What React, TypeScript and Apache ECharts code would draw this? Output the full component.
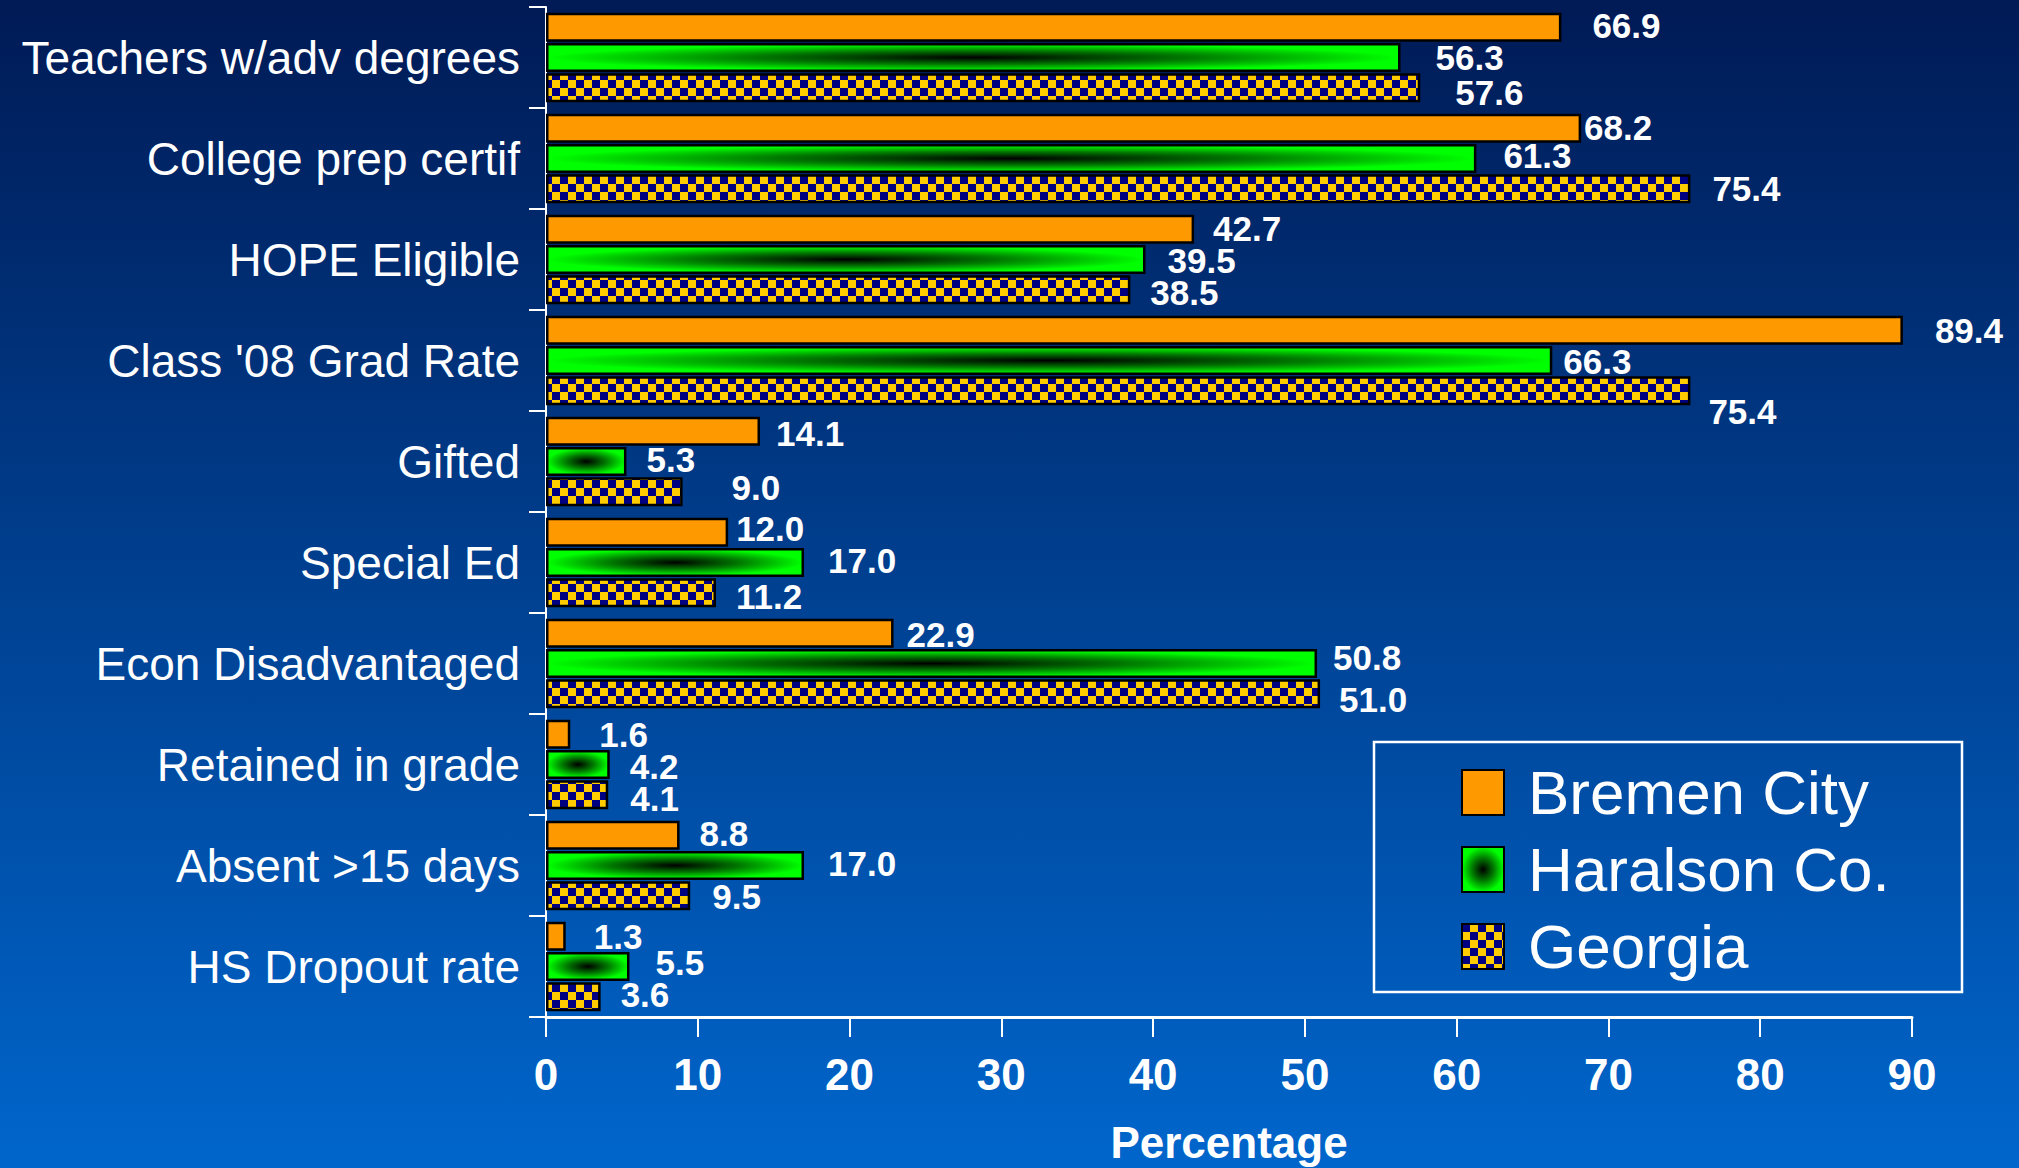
import React, { useEffect, useRef } from "react";
import * as echarts from "echarts";

const categories = [
  "Teachers w/adv degrees",
  "College prep certif",
  "HOPE Eligible",
  "Class '08 Grad Rate",
  "Gifted",
  "Special Ed",
  "Econ Disadvantaged",
  "Retained in grade",
  "Absent >15 days",
  "HS Dropout rate",
];
const seriesNames = ["Bremen City", "Haralson Co.", "Georgia"];
const bremen = [66.9, 68.2, 42.7, 89.4, 14.1, 12.0, 22.9, 1.6, 8.8, 1.3];
const haralson = [56.3, 61.3, 39.5, 66.3, 5.3, 17.0, 50.8, 4.2, 17.0, 5.5];
const georgia = [57.6, 75.4, 38.5, 75.4, 9.0, 11.2, 51.0, 4.1, 9.5, 3.6];
const xTicks = { min: 0, max: 90, interval: 10 };
const axisName = "Percentage";

// label nudges [dx, dy] (style only)
const bremenNudge = [[11, -2], [-17, -1], [-1, -1], [12, 0], [-4, 2], [-12, -4], [-7, 1], [9, 0], [0, -2], [8, 0]];
const haralsonNudge = [[15, 0], [7, -3], [2, 1], [-9, 1], [0, -2], [4, -2], [-4, -6], [0, 2], [4, -2], [6, -4]];
const georgiaNudge = [[15, 5], [2, 0], [0, 3], [-2, 21], [29, -4], [0, 4], [-1, 6], [2, 4], [2, 1], [0, -2]];

const NARROW = "'Liberation Sans Narrow', 'Arial Narrow', 'Liberation Sans', Arial, sans-serif";
const SANS = "'Liberation Sans', Arial, Helvetica, sans-serif";

function makeChecker(): HTMLCanvasElement {
  const c = document.createElement("canvas");
  c.width = 16;
  c.height = 16;
  const ctx = c.getContext("2d")!;
  ctx.fillStyle = "#FFCC00";
  ctx.fillRect(0, 0, 16, 16);
  ctx.fillStyle = "#000080";
  ctx.fillRect(0, 0, 8, 8);
  ctx.fillRect(8, 8, 8, 8);
  return c;
}

export default function App() {
  const ref = useRef<HTMLDivElement>(null);
  useEffect(() => {
    if (!ref.current) return;
    const chart = echarts.init(ref.current, undefined, { renderer: "svg" });
    const checker = makeChecker();

    const mk = (vals: number[], nudges: number[][]) =>
      vals.map((v, i) => ({ value: v, label: { offset: nudges[i] } }));

    const labelCfg = {
      show: true,
      position: "right" as const,
      distance: 20,
      color: "#FFFFFF",
      fontSize: 35,
      lineHeight: 27,
      fontWeight: "bold" as const,
      fontFamily: SANS,
      formatter: (p: any) => Number(p.value).toFixed(1),
    };

    const common = {
      type: "bar" as const,
      barWidth: 29,
      barGap: "4%",
      label: labelCfg,
    };

    chart.setOption({
      animation: false,
      backgroundColor: {
        type: "linear",
        x: 0,
        y: 0,
        x2: 0,
        y2: 1,
        colorStops: [
          { offset: 0, color: "#001A55" },
          { offset: 1, color: "#0066CC" },
        ],
      },
      grid: {
        left: 546,
        top: 7,
        width: 1366,
        height: 1010,
        containLabel: false,
        outerBoundsMode: "none",
      },
      legend: {
        orient: "vertical",
        left: 1461,
        top: 754,
        itemWidth: 42,
        itemHeight: 45,
        itemGap: 0,
        icon: "rect",
        padding: 0,
        data: seriesNames,
        textStyle: {
          color: "#FFFFFF",
          fontSize: 62,
          fontFamily: NARROW,
          lineHeight: 77,
          padding: [0, 0, 0, 19],
        },
      },
      graphic: [
        {
          type: "rect",
          shape: { x: 1374, y: 742, width: 588, height: 250 },
          style: { fill: "none", stroke: "#FFFFFF", lineWidth: 2.5 },
          silent: true,
        },
      ],
      xAxis: {
        type: "value",
        min: xTicks.min,
        max: xTicks.max,
        interval: xTicks.interval,
        name: axisName,
        nameLocation: "middle",
        nameGap: 103,
        nameTextStyle: { color: "#FFFFFF", fontSize: 44, fontWeight: "bold", fontFamily: SANS },
        axisLine: { show: true, lineStyle: { color: "#FFFFFF", width: 3 } },
        axisTick: { show: true, length: 20, lineStyle: { color: "#FFFFFF", width: 2 } },
        axisLabel: { color: "#FFFFFF", fontSize: 44, fontWeight: "bold", fontFamily: SANS, margin: 35 },
        splitLine: { show: false },
      },
      yAxis: {
        type: "category",
        data: categories,
        inverse: true,
        axisLine: { show: true, lineStyle: { color: "#FFFFFF", width: 2 } },
        axisTick: { show: true, length: 17, lineStyle: { color: "#FFFFFF", width: 2 } },
        axisLabel: { color: "#FFFFFF", fontSize: 46, fontFamily: NARROW, margin: 26 },
        splitLine: { show: false },
      },
      series: [
        {
          ...common,
          name: seriesNames[0],
          data: mk(bremen, bremenNudge),
          itemStyle: { color: "#FF9900", borderColor: "#000000", borderWidth: 2.5 },
        },
        {
          ...common,
          name: seriesNames[1],
          data: mk(haralson, haralsonNudge),
          itemStyle: {
            color: {
              type: "radial",
              x: 0.5,
              y: 0.5,
              r: 0.5,
              colorStops: [
                { offset: 0, color: "#000000" },
                { offset: 0.5, color: "#007700" },
                { offset: 1, color: "#00FF00" },
              ],
            },
            borderColor: "#000000",
            borderWidth: 2.5,
          },
        },
        {
          ...common,
          name: seriesNames[2],
          data: mk(georgia, georgiaNudge),
          itemStyle: {
            color: { image: checker, repeat: "repeat" },
            borderColor: "#000000",
            borderWidth: 2.5,
          },
        },
      ],
    });
    return () => chart.dispose();
  }, []);
  return (
    <div
      ref={ref}
      style={{ position: "absolute", left: 0, top: 0, width: 2019, height: 1168 }}
    />
  );
}
